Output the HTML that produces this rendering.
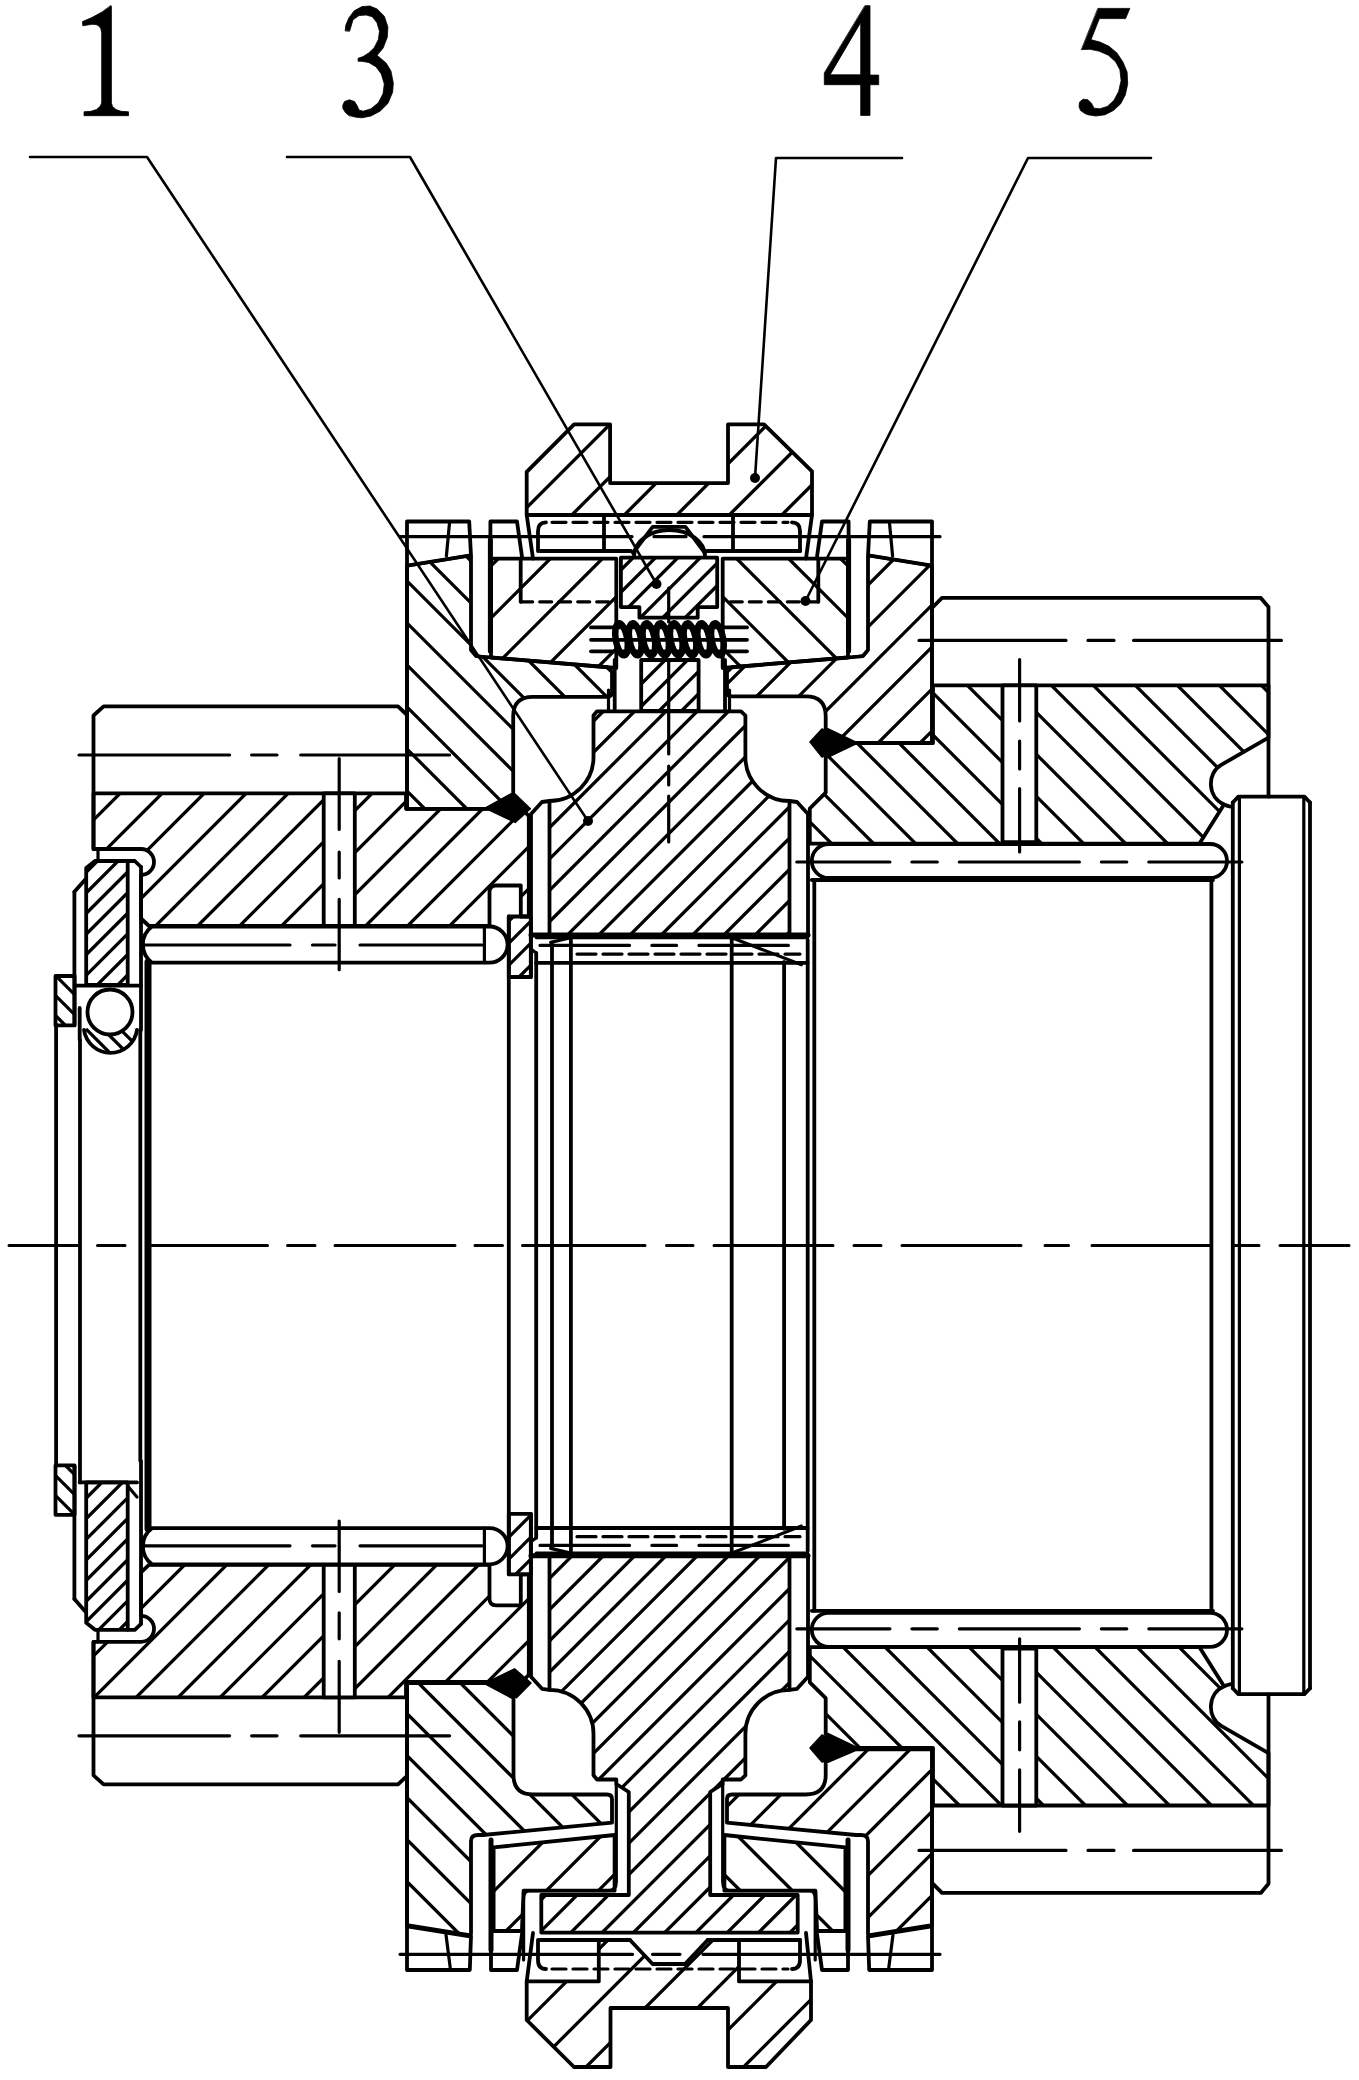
<!DOCTYPE html>
<html><head><meta charset="utf-8"><title>drawing</title>
<style>html,body{margin:0;padding:0;background:#fff;width:1359px;height:2080px;overflow:hidden}
svg{display:block} text{font-family:"Liberation Serif",serif}</style></head>
<body>
<svg width="1359" height="2080" viewBox="0 0 1359 2080" stroke="#000" stroke-linecap="round" stroke-linejoin="round" fill="none">
<defs><clipPath id="c1"><path d="M93.5,793.4H406V808.8H522L528.8,816V916.5H520.8V885.5H496Q489.5,885.5 489.5,892V926H149L141,918.5V875A13,13 0 0 0 141,849H93.5Z"/></clipPath><clipPath id="c2"><polygon points="508.8,916.5 530.8,916.5 530.8,977 508.8,977"/></clipPath><clipPath id="c3"><polygon points="86.2,868 95,861 127.7,861 127.7,985 86.2,985"/></clipPath><clipPath id="c4"><polygon points="55.5,976 74.6,976 74.6,1025.4 55.5,1025.4"/></clipPath><clipPath id="c5"><path d="M933,685.3H1268.5V737.7L1221.2,764.9C1207,773 1207,797 1224,804.5L1199.5,843.6H809.8V808.5L825.7,792.6V757L855,743H933Z"/></clipPath><clipPath id="c6"><path d="M84,1030A26.8,26.8 0 0 0 137,1030L127.7,1025A22,22 0 0 1 92.3,1025Z"/></clipPath><clipPath id="c7"><path d="M93.5,1697.4H406V1682H522L528.8,1674.8V1574.3H520.8V1605.3H496Q489.5,1605.3 489.5,1598.8V1564.8H149L141,1572.3V1615.8A13,13 0 0 1 141,1641.8H93.5Z"/></clipPath><clipPath id="c8"><polygon points="508.8,1574.3 530.8,1574.3 530.8,1513.8 508.8,1513.8"/></clipPath><clipPath id="c9"><polygon points="86.2,1622.8 95,1629.8 127.7,1629.8 127.7,1482.4 86.2,1482.4"/></clipPath><clipPath id="c10"><polygon points="55.5,1514.8 74.6,1514.8 74.6,1465.4 55.5,1465.4"/></clipPath><clipPath id="c11"><path d="M933,1805.5H1268.5V1753.1L1221.2,1725.9C1207,1717.8 1207,1693.8 1224,1686.3L1199.5,1647.2H809.8V1682.3L825.7,1698.2V1733.8L855,1747.8H933Z"/></clipPath><clipPath id="c12"><polygon points="526.7,515 526.7,471.8 574.1,424.4 610.1,424.4 610.1,483.1 728,483.1 728,424.4 764,424.4 812,471.4 812,515"/></clipPath><clipPath id="c13"><path d="M407,565.6L469.2,555.6L471,557V650L476,656L481,656.6L607,667.2L612,672V692Q612,696.8 607,696.8H533Q513.2,696.8 513.2,716V794L486,808.8H407Z"/></clipPath><clipPath id="c14"><polygon points="491,558.6 616.3,558.6 616.3,668 491,657.5"/></clipPath><clipPath id="c15"><polygon points="848,558.6 722.7,558.6 722.7,668 848,657.5"/></clipPath><clipPath id="c16"><path d="M869.8,555.6L868.0,557V650L863.0,656L858.0,656.6L732.0,667.2L727.0,672V692Q727.0,696.3 732.0,696.3H805.7Q825.7,696.3 825.7,716V729L855,743H932V565.6Z"/></clipPath><clipPath id="c17"><polygon points="620.9,557.7 717.2,557.7 717.2,607.1 697.7,607.1 697.7,617.7 639.4,617.7 639.4,607.1 620.9,607.1"/></clipPath><clipPath id="c18"><polygon points="641.2,660 698.6,660 698.6,711 641.2,711"/></clipPath><clipPath id="c19"><path d="M597,711.3H741L745.4,715.5V756.6A44,44 0 0 0 789.5,801V935H549.5V801A44,44 0 0 0 593.5,756.6V715.5Z"/></clipPath><clipPath id="c20"><polygon points="526.7,1981.4 526.7,2020 574,2067 610.5,2067 610.5,2008 728,2008 728,2067 766,2067 811,2020 811,1981.4 739,1981.4 739,1940 707.7,1940 685,1964 652.6,1964 630,1940 598.8,1940 598.8,1981.4"/></clipPath><clipPath id="c21"><path d="M407,1925.2L469.2,1935.2L471,1933.8V1841Q471,1835 478,1835H483L612,1822.7V1799Q612,1794.5 607,1794.5H533Q513.5,1794.5 513.5,1775V1697.7L486,1683H407Z"/></clipPath><clipPath id="c22"><polygon points="493.6,1847.4 614.6,1835 614.6,1890.7 523.6,1890.7 521.9,1931 493.6,1931"/></clipPath><clipPath id="c23"><polygon points="845.4,1847.4 724.4,1835 724.4,1890.7 815.4,1890.7 817.1,1931 845.4,1931"/></clipPath><clipPath id="c24"><path d="M869.8,1935.2L868.0,1933.8V1841Q868.0,1835 861.0,1835H856.0L727.0,1822.7V1799Q727.0,1794.5 732.0,1794.5H805.7Q825.7,1794.5 825.7,1775V1762L855,1749.4H932V1925.2Z"/></clipPath><clipPath id="c25"><path d="M549.5,1555.8H789.5V1689.8A44,44 0 0 0 745.4,1734.2V1775.3L741,1779.5H722.7V1784L710.2,1792V1895H797.7V1932.6H541.3V1895H628.8V1792L616.3,1784V1779.5H597L593.5,1775.3V1734.2A44,44 0 0 0 549.5,1689.8Z"/></clipPath></defs>
<rect x="0" y="0" width="1359" height="2080" fill="#fff" stroke="none"/>
<polygon points="111.1,5.7 111.4,6 111.4,103 112.5,106.5 116,109.5 121,111.3 128.5,111.8 128.5,115.7 84,115.7 84,111.8 91,111.3 96.5,109.5 100,106.5 101.7,103 101.7,33 101,29 99,26 96,24.5 92,24.3 82.8,25.8 82.5,21.6 92,17.5 102,12" fill="#000" stroke="#000" stroke-width="0.8" stroke-linejoin="round"/>
<polygon points="345.2,30.6 345.8,25.2 348.8,18 354.2,10.8 362,6.6 369.9,6 377.1,9 384.3,16.2 387.9,27 387.3,37.3 383.1,48.1 377.1,55.3 386.1,63.1 390.9,70.9 393.3,82.9 392.7,92 387.9,103.4 380,111.2 371,116 362,117.8 356,117.2 349,115.6 345.8,113 342.8,108.5 342.8,105.2 344.5,101.5 349.4,99.8 354.5,101.5 357.2,105.8 359,110 363.2,111.2 371,108.8 378.3,102.8 383,93.8 384.3,84.1 381.3,73.9 375.9,66.7 368.7,62.5 362,61.3 358.1,61.3 358.1,58.3 363.2,56.5 368.7,52.9 374,48 378.3,39.7 379.5,31.2 377,22.8 372.3,16.8 366.2,15 359,15.6 353,19.8 349.7,30.9" fill="#000" stroke="#000" stroke-width="0.8" stroke-linejoin="round"/>
<polygon points="1098.2,8.4 1129.8,8.4 1125.6,18.6 1099.4,18.6 1091,39.7 1100,42.1 1109,46.3 1116.9,52.9 1122.9,61.9 1127.1,72.1 1127.7,84.1 1125.3,95 1120.5,104 1113.3,110.6 1104.9,114.8 1095.8,116 1088,114.8 1085,113.6 1080.5,110.5 1079,106.5 1079.6,102 1083.2,99.2 1088,99.8 1091.6,103.4 1094,108.2 1100,108.8 1107.3,106.4 1113.9,100.4 1118.7,91.3 1121.1,80.5 1119.9,69.7 1115.7,61.9 1108.5,55.3 1098.8,51.1 1089.8,49.3 1081.7,49.6" fill="#000" stroke="#000" stroke-width="0.8" stroke-linejoin="round"/>
<path d="M865.2,5.7 870,5.7 870,75.1 878.7,75.1 878.7,84.7 870,84.7 870,115.4 860.7,115.4 860.7,84.7 824.3,84.7 824.3,73.3Z M860.7,22.8 860.7,74.8 830.3,74.8Z" fill="#000" fill-rule="evenodd" stroke="#000" stroke-width="0.8"/>
<polyline points="30,157 147,157 588,821" stroke-width="2.6" fill="none"/>
<circle cx="588" cy="821" r="5" fill="#000" stroke="none"/>
<polyline points="287,157 410,157 656.5,584" stroke-width="2.6" fill="none"/>
<circle cx="656.5" cy="584" r="5" fill="#000" stroke="none"/>
<polyline points="902,158 776,158 755,478" stroke-width="2.6" fill="none"/>
<circle cx="755" cy="478" r="5" fill="#000" stroke="none"/>
<polyline points="1151,158 1028,158 805.5,601" stroke-width="2.6" fill="none"/>
<circle cx="805.5" cy="601" r="5" fill="#000" stroke="none"/>
<path d="M9,1245.4H77.5M97.5,1245.4H125M150,1245.4H267.5M287.5,1245.4H315M335,1245.4H455M475,1245.4H502.5M522.5,1245.4H645M666.5,1245.4H693M714,1245.4H833M854,1245.4H881M902,1245.4H1021M1045,1245.4H1068.6M1092,1245.4H1211M1232.6,1245.4H1259M1280,1245.4H1349" stroke-width="3.0" fill="none"/>
<polyline points="93.5,849 93.5,715.5 103.6,706.4 398,706.4 406,714" stroke-width="3.8" fill="none"/>
<path d="M79,755H229.6M251.6,755H277M300.7,755H449.6" stroke-width="3.2" fill="none"/>
<path clip-path="url(#c1)" d="M-57.5,929L81.1,790.4M-15.5,929L123.1,790.4M26.5,929L165.1,790.4M68.5,929L207.1,790.4M110.5,929L249.1,790.4M152.5,929L291.1,790.4M194.5,929L333.1,790.4M236.5,929L375.1,790.4M278.5,929L417.1,790.4M320.5,929L459.1,790.4M362.5,929L501.1,790.4M404.5,929L543.1,790.4M446.5,929L585.1,790.4M488.5,929L627.1,790.4" stroke-width="3.3" fill="none"/>
<path d="M93.5,793.4H406V808.8H522L528.8,816V916.5H520.8V885.5H496Q489.5,885.5 489.5,892V926H149L141,918.5V875A13,13 0 0 0 141,849H93.5Z" stroke-width="3.8" fill="none"/>
<polygon points="323.7,793.4 354.8,793.4 354.8,926 323.7,926" stroke-width="3.8" fill="#fff"/>
<path d="M339.2,758.5V829.5M339.2,852V878M339.2,899.3V969.7" stroke-width="3.2" fill="none"/>
<line x1="98" y1="849" x2="98" y2="861" stroke-width="3.2"/>
<path d="M152,926.5H489.5A18.1,18.1 0 0 1 489.5,962.7H152A22.5,22.5 0 0 1 152,926.5Z" stroke-width="3.8" fill="none"/>
<line x1="484.4" y1="926.5" x2="484.4" y2="962.7" stroke-width="3.2"/>
<path d="M143,945H290M312.5,945H335M360,945H482" stroke-width="3.2" fill="none"/>
<line x1="531" y1="935" x2="531" y2="977" stroke-width="3.8"/>
<line x1="531" y1="949" x2="536.2" y2="953" stroke-width="3.2"/>
<path clip-path="url(#c2)" d="M429,979L493.5,914.5M451,979L515.5,914.5M473,979L537.5,914.5M495,979L559.5,914.5M517,979L581.5,914.5" stroke-width="3.3" fill="none"/>
<polygon points="508.8,916.5 530.8,916.5 530.8,977 508.8,977" stroke-width="3.8" fill="none"/>
<path clip-path="url(#c3)" d="M-49.1,987L78.9,859M-28.5,987L99.5,859M-7.9,987L120.1,859M12.7,987L140.7,859M33.3,987L161.3,859M53.9,987L181.9,859M74.5,987L202.5,859M95.1,987L223.1,859M115.7,987L243.7,859" stroke-width="3.3" fill="none"/>
<polygon points="86.2,868 95,861 127.7,861 127.7,985 86.2,985" stroke-width="3.8" fill="none"/>
<polyline points="127.7,861 134.8,861 141,867" stroke-width="3.8" fill="none"/>
<line x1="74.4" y1="891.8" x2="74.4" y2="1025" stroke-width="3.8"/>
<line x1="74.4" y1="891.8" x2="85.3" y2="879.4" stroke-width="3.8"/>
<line x1="141" y1="867" x2="141" y2="1030" stroke-width="3.8"/>
<path clip-path="url(#c4)" d="M-6,974L47.4,1027.4M14,974L67.4,1027.4M34,974L87.4,1027.4M54,974L107.4,1027.4" stroke-width="3.3" fill="none"/>
<polygon points="55.5,976 74.6,976 74.6,1025.4 55.5,1025.4" stroke-width="3.8" fill="none"/>
<polyline points="933,607 942,597.9 1260.8,597.9 1268.5,607 1268.5,796.5" stroke-width="3.8" fill="none"/>
<path d="M919,640.4H1066M1088,640.4H1114M1133.6,640.4H1281.4" stroke-width="3.2" fill="none"/>
<path clip-path="url(#c5)" d="M628.3,682.3L792.6,846.6M670.3,682.3L834.6,846.6M712.3,682.3L876.6,846.6M754.3,682.3L918.6,846.6M796.3,682.3L960.6,846.6M838.3,682.3L1002.6,846.6M880.3,682.3L1044.6,846.6M922.3,682.3L1086.6,846.6M964.3,682.3L1128.6,846.6M1006.3,682.3L1170.6,846.6M1048.3,682.3L1212.6,846.6M1090.3,682.3L1254.6,846.6M1132.3,682.3L1296.6,846.6M1174.3,682.3L1338.6,846.6M1216.3,682.3L1380.6,846.6M1258.3,682.3L1422.6,846.6" stroke-width="3.3" fill="none"/>
<path d="M933,685.3H1268.5V737.7L1221.2,764.9C1207,773 1207,797 1224,804.5L1199.5,843.6H809.8V808.5L825.7,792.6V757L855,743H933Z" stroke-width="3.8" fill="none"/>
<path d="M1224,804.5Q1227,806 1232,807" stroke-width="3.8" fill="none"/>
<polygon points="1002.5,685.3 1036.3,685.3 1036.3,842.2 1002.5,842.2" stroke-width="3.8" fill="#fff"/>
<path d="M1019.6,659.5V721M1019.6,741V769M1019.6,788.6V852" stroke-width="3.2" fill="none"/>
<path d="M828.8,844H1210A17,17 0 0 1 1210,878H828.8A17,17 0 0 1 828.8,844Z" stroke-width="3.8" fill="none"/>
<path d="M796.8,862H889.9M911.9,862H937.3M959.3,862H1079.4M1101.4,862H1126.8M1148.8,862H1241.9" stroke-width="3.2" fill="none"/>
<line x1="811.8" y1="880" x2="1213" y2="880" stroke-width="3.8"/>
<circle cx="110" cy="1012" r="22.5" stroke-width="3.8" fill="none"/>
<path clip-path="url(#c6)" d="M45,1022L79,1056M62,1022L96,1056M79,1022L113,1056M96,1022L130,1056M113,1022L147,1056M130,1022L164,1056" stroke-width="3.3" fill="none"/>
<path d="M84,1030A26.8,26.8 0 0 0 137,1030" stroke-width="3.8" fill="none"/>
<line x1="76" y1="985.7" x2="141" y2="985.7" stroke-width="3.8"/>
<line x1="79.7" y1="1008" x2="79.7" y2="1040" stroke-width="3.8"/>
<polyline points="93.5,1641.8 93.5,1775.3 103.6,1784.4 398,1784.4 406,1776.8" stroke-width="3.8" fill="none"/>
<path d="M79,1735.8H229.6M251.6,1735.8H277M300.7,1735.8H449.6" stroke-width="3.2" fill="none"/>
<path clip-path="url(#c7)" d="M-76.9,1700.4L61.7,1561.8M-34.9,1700.4L103.7,1561.8M7.1,1700.4L145.7,1561.8M49.1,1700.4L187.7,1561.8M91.1,1700.4L229.7,1561.8M133.1,1700.4L271.7,1561.8M175.1,1700.4L313.7,1561.8M217.1,1700.4L355.7,1561.8M259.1,1700.4L397.7,1561.8M301.1,1700.4L439.7,1561.8M343.1,1700.4L481.7,1561.8M385.1,1700.4L523.7,1561.8M427.1,1700.4L565.7,1561.8M469.1,1700.4L607.7,1561.8M511.1,1700.4L649.7,1561.8" stroke-width="3.3" fill="none"/>
<path d="M93.5,1697.4H406V1682H522L528.8,1674.8V1574.3H520.8V1605.3H496Q489.5,1605.3 489.5,1598.8V1564.8H149L141,1572.3V1615.8A13,13 0 0 1 141,1641.8H93.5Z" stroke-width="3.8" fill="none"/>
<polygon points="323.7,1697.4 354.8,1697.4 354.8,1564.8 323.7,1564.8" stroke-width="3.8" fill="#fff"/>
<path d="M339.2,1661.3V1732.3M339.2,1612.8V1638.8M339.2,1521.1V1591.5" stroke-width="3.2" fill="none"/>
<line x1="98" y1="1641.8" x2="98" y2="1629.8" stroke-width="3.2"/>
<path d="M152,1528.1H489.5A18.1,18.1 0 0 1 489.5,1564.3H152A22.5,22.5 0 0 1 152,1528.1Z" stroke-width="3.8" fill="none"/>
<line x1="484.4" y1="1528.1" x2="484.4" y2="1564.3" stroke-width="3.2"/>
<path d="M143,1545.8H290M312.5,1545.8H335M360,1545.8H482" stroke-width="3.2" fill="none"/>
<line x1="531" y1="1555.8" x2="531" y2="1513.8" stroke-width="3.8"/>
<line x1="531" y1="1541.8" x2="536.2" y2="1537.8" stroke-width="3.2"/>
<path clip-path="url(#c8)" d="M425.7,1576.3L490.2,1511.8M447.7,1576.3L512.2,1511.8M469.7,1576.3L534.2,1511.8M491.7,1576.3L556.2,1511.8M513.7,1576.3L578.2,1511.8" stroke-width="3.3" fill="none"/>
<polygon points="508.8,1574.3 530.8,1574.3 530.8,1513.8 508.8,1513.8" stroke-width="3.8" fill="none"/>
<path clip-path="url(#c9)" d="M-68.1,1631.8L83.3,1480.4M-47.5,1631.8L103.9,1480.4M-26.9,1631.8L124.5,1480.4M-6.3,1631.8L145.1,1480.4M14.3,1631.8L165.7,1480.4M34.9,1631.8L186.3,1480.4M55.5,1631.8L206.9,1480.4M76.1,1631.8L227.5,1480.4M96.7,1631.8L248.1,1480.4M117.3,1631.8L268.7,1480.4" stroke-width="3.3" fill="none"/>
<polygon points="86.2,1622.8 95,1629.8 127.7,1629.8 127.7,1482.4 86.2,1482.4" stroke-width="3.8" fill="none"/>
<polyline points="127.7,1629.8 134.8,1629.8 141,1623.8" stroke-width="3.8" fill="none"/>
<line x1="79.7" y1="1482.4" x2="137" y2="1482.4" stroke-width="3.8"/>
<line x1="127.7" y1="1486" x2="137" y2="1497" stroke-width="3.2"/>
<line x1="74.4" y1="1599" x2="74.4" y2="1465.8" stroke-width="3.8"/>
<line x1="74.4" y1="1599" x2="85.3" y2="1611.4" stroke-width="3.8"/>
<line x1="141" y1="1623.8" x2="141" y2="1460.8" stroke-width="3.8"/>
<path clip-path="url(#c10)" d="M3.4,1463.4L56.8,1516.8M23.4,1463.4L76.8,1516.8M43.4,1463.4L96.8,1516.8M63.4,1463.4L116.8,1516.8" stroke-width="3.3" fill="none"/>
<polygon points="55.5,1514.8 74.6,1514.8 74.6,1465.4 55.5,1465.4" stroke-width="3.8" fill="none"/>
<polyline points="933,1883.8 942,1892.9 1260.8,1892.9 1268.5,1883.8 1268.5,1694.3" stroke-width="3.8" fill="none"/>
<path d="M919,1850.4H1066M1088,1850.4H1114M1133.6,1850.4H1281.4" stroke-width="3.2" fill="none"/>
<path clip-path="url(#c11)" d="M630.2,1644.2L794.5,1808.5M672.2,1644.2L836.5,1808.5M714.2,1644.2L878.5,1808.5M756.2,1644.2L920.5,1808.5M798.2,1644.2L962.5,1808.5M840.2,1644.2L1004.5,1808.5M882.2,1644.2L1046.5,1808.5M924.2,1644.2L1088.5,1808.5M966.2,1644.2L1130.5,1808.5M1008.2,1644.2L1172.5,1808.5M1050.2,1644.2L1214.5,1808.5M1092.2,1644.2L1256.5,1808.5M1134.2,1644.2L1298.5,1808.5M1176.2,1644.2L1340.5,1808.5M1218.2,1644.2L1382.5,1808.5M1260.2,1644.2L1424.5,1808.5" stroke-width="3.3" fill="none"/>
<path d="M933,1805.5H1268.5V1753.1L1221.2,1725.9C1207,1717.8 1207,1693.8 1224,1686.3L1199.5,1647.2H809.8V1682.3L825.7,1698.2V1733.8L855,1747.8H933Z" stroke-width="3.8" fill="none"/>
<path d="M1224,1686.3Q1227,1684.8 1232,1683.8" stroke-width="3.8" fill="none"/>
<polygon points="1002.5,1805.5 1036.3,1805.5 1036.3,1648.6 1002.5,1648.6" stroke-width="3.8" fill="#fff"/>
<path d="M1019.6,1638.8V1702.2M1019.6,1721.8V1749.8M1019.6,1769.8V1831.3" stroke-width="3.2" fill="none"/>
<path d="M828.8,1612.8H1210A17,17 0 0 1 1210,1646.8H828.8A17,17 0 0 1 828.8,1612.8Z" stroke-width="3.8" fill="none"/>
<path d="M796.8,1628.8H889.9M911.9,1628.8H937.3M959.3,1628.8H1079.4M1101.4,1628.8H1126.8M1148.8,1628.8H1241.9" stroke-width="3.2" fill="none"/>
<line x1="811.8" y1="1610.8" x2="1213" y2="1610.8" stroke-width="3.8"/>
<line x1="56.1" y1="1025" x2="56.1" y2="1465.8" stroke-width="3.8"/>
<line x1="80" y1="1040" x2="80" y2="1482.4" stroke-width="3.8"/>
<line x1="140.3" y1="1030" x2="140.3" y2="1460.8" stroke-width="3.8"/>
<line x1="148" y1="962" x2="148" y2="1528.8" stroke-width="7"/>
<line x1="508.8" y1="916.5" x2="508.8" y2="1574.3" stroke-width="3.8"/>
<line x1="536.2" y1="953" x2="536.2" y2="1537.8" stroke-width="3.8"/>
<line x1="552" y1="943" x2="552" y2="1547.8" stroke-width="3.8"/>
<line x1="570.9" y1="937.7" x2="570.9" y2="1553.1" stroke-width="3.8"/>
<line x1="731.7" y1="937.7" x2="731.7" y2="1553.1" stroke-width="3.8"/>
<line x1="784.1" y1="962" x2="784.1" y2="1528.8" stroke-width="3.8"/>
<line x1="807.7" y1="940" x2="807.7" y2="1550.8" stroke-width="3.8"/>
<line x1="814.3" y1="880" x2="814.3" y2="1610.8" stroke-width="3.8"/>
<line x1="1211.4" y1="880" x2="1211.4" y2="1610.8" stroke-width="3.8"/>
<line x1="1232.8" y1="802.5" x2="1232.8" y2="1688.3" stroke-width="3.8"/>
<line x1="1239.4" y1="796.6" x2="1239.4" y2="1694.2" stroke-width="3.2"/>
<line x1="1303.8" y1="796.6" x2="1303.8" y2="1694.2" stroke-width="3.2"/>
<line x1="1310" y1="802.5" x2="1310" y2="1688.3" stroke-width="3.8"/>
<polyline points="1232.8,802.5 1238.4,796.6 1304.4,796.6 1310,802.5" stroke-width="3.8" fill="none"/>
<polyline points="1232.8,1688.3 1238.4,1694.2 1304.4,1694.2 1310,1688.3" stroke-width="3.8" fill="none"/>
<path clip-path="url(#c12)" d="M412.3,517L506.9,422.4M464.8,517L559.4,422.4M517.3,517L611.9,422.4M569.8,517L664.4,422.4M622.3,517L716.9,422.4M674.8,517L769.4,422.4M727.3,517L821.9,422.4M779.8,517L874.4,422.4" stroke-width="3.3" fill="none"/>
<polygon points="526.7,515 526.7,471.8 574.1,424.4 610.1,424.4 610.1,483.1 728,483.1 728,424.4 764,424.4 812,471.4 812,515" stroke-width="3.8" fill="none"/>
<path d="M538,551V531Q538,522.3 546,522.3" stroke-width="3.8" fill="none"/>
<path d="M792,522.3Q800,522.3 800,531V551" stroke-width="3.8" fill="none"/>
<line x1="552" y1="522.3" x2="788" y2="522.3" stroke-width="3.2" stroke-dasharray="14 7"/>
<path d="M400,536.7H632M654,536.7H686M704,536.7H940" stroke-width="3.2" fill="none"/>
<line x1="540" y1="551" x2="631" y2="551" stroke-width="3.8"/>
<line x1="707" y1="551" x2="800" y2="551" stroke-width="3.8"/>
<line x1="604" y1="515" x2="604" y2="551" stroke-width="3.8"/>
<line x1="733" y1="515" x2="733" y2="551" stroke-width="3.8"/>
<line x1="526.7" y1="515" x2="533" y2="558.6" stroke-width="3.8"/>
<line x1="812" y1="515" x2="806" y2="558.6" stroke-width="3.8"/>
<polyline points="633,553 652.7,526.8 685.4,526.8 705,553" stroke-width="3.8" fill="none"/>
<path d="M634,556A35.5,26 0 0 1 705,556" stroke-width="3.8" fill="none"/>
<path clip-path="url(#c13)" d="M127,553L385,811M169,553L427,811M211,553L469,811M253,553L511,811M295,553L553,811M337,553L595,811M379,553L637,811M421,553L679,811M463,553L721,811M505,553L763,811M547,553L805,811M589,553L847,811" stroke-width="3.3" fill="none"/>
<path d="M407,565.6L469.2,555.6L471,557V650L476,656L481,656.6L607,667.2L612,672V692Q612,696.8 607,696.8H533Q513.2,696.8 513.2,716V794L486,808.8H407Z" stroke-width="3.8" fill="none"/>
<polyline points="407,808.8 407,521.5 469.2,521.5 471,556" stroke-width="3.8" fill="none"/>
<line x1="449.5" y1="523" x2="446.4" y2="556" stroke-width="3.2"/>
<line x1="408.2" y1="565.6" x2="469.2" y2="555.6" stroke-width="3.2"/>
<polyline points="490.4,651 490.4,521.5 517,521.5 522,556.8" stroke-width="3.8" fill="none"/>
<line x1="490.4" y1="540" x2="490.4" y2="651" stroke-width="5"/>
<path clip-path="url(#c14)" d="M335,670L448.4,556.6M387,670L500.4,556.6M439,670L552.4,556.6M491,670L604.4,556.6M543,670L656.4,556.6M595,670L708.4,556.6" stroke-width="3.3" fill="none"/>
<polygon points="491,558.6 616.3,558.6 616.3,668 491,657.5" stroke-width="3.8" fill="none"/>
<line x1="520.7" y1="558.6" x2="520.7" y2="601.8" stroke-width="3.8"/>
<line x1="520.7" y1="601.8" x2="616.3" y2="601.8" stroke-width="3.2" stroke-dasharray="12 7"/>
<path clip-path="url(#c15)" d="M578.6,556.6L692,670M630.6,556.6L744,670M682.6,556.6L796,670M734.6,556.6L848,670M786.6,556.6L900,670M838.6,556.6L952,670" stroke-width="3.3" fill="none"/>
<polygon points="848,558.6 722.7,558.6 722.7,668 848,657.5" stroke-width="3.8" fill="none"/>
<line x1="818.3" y1="558.6" x2="818.3" y2="601.8" stroke-width="3.8"/>
<line x1="818.3" y1="601.8" x2="722.7" y2="601.8" stroke-width="3.2" stroke-dasharray="12 7"/>
<path clip-path="url(#c16)" d="M497,746L690,553M539,746L732,553M581,746L774,553M623,746L816,553M665,746L858,553M707,746L900,553M749,746L942,553M791,746L984,553M833,746L1026,553M875,746L1068,553M917,746L1110,553" stroke-width="3.3" fill="none"/>
<path d="M869.8,555.6L868.0,557V650L863.0,656L858.0,656.6L732.0,667.2L727.0,672V692Q727.0,696.3 732.0,696.3H805.7Q825.7,696.3 825.7,716V729L855,743H932V565.6Z" stroke-width="3.8" fill="none"/>
<polyline points="932,743 932,521.5 869.8,521.5 868,556" stroke-width="3.8" fill="none"/>
<line x1="889.5" y1="523" x2="892.6" y2="556" stroke-width="3.2"/>
<line x1="930.8" y1="565.6" x2="869.8" y2="555.6" stroke-width="3.2"/>
<polyline points="848.6,651 848.6,521.5 822,521.5 817,556.8" stroke-width="3.8" fill="none"/>
<line x1="848.6" y1="540" x2="848.6" y2="651" stroke-width="5"/>
<line x1="591" y1="627.4" x2="747" y2="627.4" stroke-width="3.8"/>
<line x1="591" y1="639.8" x2="747" y2="639.8" stroke-width="3.8"/>
<line x1="591" y1="651.3" x2="747" y2="651.3" stroke-width="3.8"/>
<path clip-path="url(#c17)" d="M548.7,619.7L612.7,555.7M571.1,619.7L635.1,555.7M593.5,619.7L657.5,555.7M615.9,619.7L679.9,555.7M638.3,619.7L702.3,555.7M660.7,619.7L724.7,555.7M683.1,619.7L747.1,555.7M705.5,619.7L769.5,555.7" stroke-width="3.3" fill="none"/>
<polygon points="620.9,557.7 717.2,557.7 717.2,607.1 697.7,607.1 697.7,617.7 639.4,617.7 639.4,607.1 620.9,607.1" stroke-width="3.8" fill="none"/>
<path clip-path="url(#c18)" d="M567.4,713L622.4,658M589.8,713L644.8,658M612.2,713L667.2,658M634.6,713L689.6,658M657,713L712,658M679.4,713L734.4,658" stroke-width="3.3" fill="none"/>
<polygon points="641.2,660 698.6,660 698.6,711 641.2,711" stroke-width="3.8" fill="none"/>
<line x1="614.7" y1="660" x2="614.7" y2="711" stroke-width="3.8"/>
<line x1="725" y1="660" x2="725" y2="711" stroke-width="3.8"/>
<line x1="608.5" y1="690" x2="608.5" y2="711" stroke-width="3.2"/>
<line x1="729.5" y1="690" x2="729.5" y2="711" stroke-width="3.2"/>
<ellipse cx="621.5" cy="639.3" rx="5.8" ry="16.2" transform="rotate(-10 621.5 639.3)" stroke-width="6.5" fill="none"/>
<ellipse cx="635.2" cy="639.3" rx="5.8" ry="16.2" transform="rotate(-10 635.2 639.3)" stroke-width="6.5" fill="none"/>
<ellipse cx="648.9" cy="639.3" rx="5.8" ry="16.2" transform="rotate(-10 648.9 639.3)" stroke-width="6.5" fill="none"/>
<ellipse cx="662.6" cy="639.3" rx="5.8" ry="16.2" transform="rotate(-10 662.6 639.3)" stroke-width="6.5" fill="none"/>
<ellipse cx="676.3" cy="639.3" rx="5.8" ry="16.2" transform="rotate(-10 676.3 639.3)" stroke-width="6.5" fill="none"/>
<ellipse cx="690" cy="639.3" rx="5.8" ry="16.2" transform="rotate(-10 690 639.3)" stroke-width="6.5" fill="none"/>
<ellipse cx="703.7" cy="639.3" rx="5.8" ry="16.2" transform="rotate(-10 703.7 639.3)" stroke-width="6.5" fill="none"/>
<ellipse cx="717.4" cy="639.3" rx="5.8" ry="16.2" transform="rotate(-10 717.4 639.3)" stroke-width="6.5" fill="none"/>
<path d="M668.7,588V622M668.7,632V652M668.7,662V754M668.7,766V785M668.7,796V842" stroke-width="3.2" fill="none"/>
<path clip-path="url(#c19)" d="M314,938L543,709M345.3,938L574.3,709M376.6,938L605.6,709M407.9,938L636.9,709M439.2,938L668.2,709M470.5,938L699.5,709M501.8,938L730.8,709M533.1,938L762.1,709M564.4,938L793.4,709M595.7,938L824.7,709M627,938L856,709M658.3,938L887.3,709M689.6,938L918.6,709M720.9,938L949.9,709M752.2,938L981.2,709M783.5,938L1012.5,709" stroke-width="3.3" fill="none"/>
<path d="M597,711.3H741L745.4,715.5V756.6A44,44 0 0 0 789.5,801V935H549.5V801A44,44 0 0 0 593.5,756.6V715.5Z" stroke-width="3.8" fill="none"/>
<polyline points="531,935 531,814 542,802 549.5,801" stroke-width="3.8" fill="none"/>
<polyline points="808,935 808,814 797,802 789.5,801" stroke-width="3.8" fill="none"/>
<line x1="531" y1="935" x2="808" y2="935" stroke-width="5"/>
<polyline points="536.2,937.6 807.7,937.6" stroke-width="3.2" fill="none"/>
<line x1="536.2" y1="962.8" x2="807.7" y2="962.8" stroke-width="3.8"/>
<path d="M540,945.4H629.5M651.9,945.4H676.6M699,945.4H788.4" stroke-width="3.2" fill="none"/>
<line x1="577" y1="954.1" x2="800" y2="954.1" stroke-width="3.2" stroke-dasharray="19 7"/>
<line x1="550.6" y1="942.4" x2="570.6" y2="937.7" stroke-width="3.2"/>
<line x1="731.9" y1="937.7" x2="801.4" y2="964.7" stroke-width="3.2"/>
<polygon points="486,808.5 515,794 530.4,808.8 515.2,822.4" fill="#000" stroke-width="1.5" stroke-linejoin="round"/>
<polygon points="810,742 822,729 835,734 856,743 835,751 822,757" fill="#000" stroke-width="1.5" stroke-linejoin="round"/>
<path clip-path="url(#c20)" d="M374,2069L505,1938M426.5,2069L557.5,1938M479,2069L610,1938M531.5,2069L662.5,1938M584,2069L715,1938M636.5,2069L767.5,1938M689,2069L820,1938M741.5,2069L872.5,1938M794,2069L925,1938" stroke-width="3.3" fill="none"/>
<polygon points="526.7,1981.4 526.7,2020 574,2067 610.5,2067 610.5,2008 728,2008 728,2067 766,2067 811,2020 811,1981.4 739,1981.4 739,1940 707.7,1940 685,1964 652.6,1964 630,1940 598.8,1940 598.8,1981.4" stroke-width="3.8" fill="none"/>
<path d="M400,1954.3H632.6M652.5,1954.3H680M703,1954.3H940" stroke-width="3.2" fill="none"/>
<path d="M538,1940V1960Q538,1969 546,1969" stroke-width="3.8" fill="none"/>
<path d="M792,1969Q800,1969 800,1960V1940" stroke-width="3.8" fill="none"/>
<line x1="552" y1="1969" x2="788" y2="1969" stroke-width="3.2" stroke-dasharray="14 7"/>
<line x1="526.7" y1="1981.4" x2="533" y2="1933" stroke-width="3.8"/>
<line x1="811" y1="1981.4" x2="806" y2="1933" stroke-width="3.8"/>
<line x1="540" y1="1940" x2="630" y2="1940" stroke-width="3.8"/>
<line x1="707.7" y1="1940" x2="800" y2="1940" stroke-width="3.8"/>
<path clip-path="url(#c21)" d="M121.4,1680L379.4,1938M163.4,1680L421.4,1938M205.4,1680L463.4,1938M247.4,1680L505.4,1938M289.4,1680L547.4,1938M331.4,1680L589.4,1938M373.4,1680L631.4,1938M415.4,1680L673.4,1938M457.4,1680L715.4,1938M499.4,1680L757.4,1938M541.4,1680L799.4,1938M583.4,1680L841.4,1938" stroke-width="3.3" fill="none"/>
<path d="M407,1925.2L469.2,1935.2L471,1933.8V1841Q471,1835 478,1835H483L612,1822.7V1799Q612,1794.5 607,1794.5H533Q513.5,1794.5 513.5,1775V1697.7L486,1683H407Z" stroke-width="3.8" fill="none"/>
<polyline points="407,1683 407,1970 469.8,1970 471,1936" stroke-width="3.8" fill="none"/>
<line x1="450.3" y1="1968.4" x2="446" y2="1934.8" stroke-width="3.2"/>
<line x1="408.8" y1="1926.9" x2="469.8" y2="1936.6" stroke-width="3.2"/>
<polyline points="491,1840 491,1970 517,1970 522,1934" stroke-width="3.8" fill="none"/>
<line x1="491" y1="1840" x2="491" y2="1950" stroke-width="5"/>
<path clip-path="url(#c22)" d="M348,1933L448,1833M400,1933L500,1833M452,1933L552,1833M504,1933L604,1833M556,1933L656,1833M608,1933L708,1833" stroke-width="3.3" fill="none"/>
<polygon points="493.6,1847.4 614.6,1835 614.6,1890.7 523.6,1890.7 521.9,1931 493.6,1931" stroke-width="3.8" fill="none"/>
<path clip-path="url(#c23)" d="M578.7,1833L678.7,1933M630.7,1833L730.7,1933M682.7,1833L782.7,1933M734.7,1833L834.7,1933M786.7,1833L886.7,1933M838.7,1833L938.7,1933" stroke-width="3.3" fill="none"/>
<polygon points="845.4,1847.4 724.4,1835 724.4,1890.7 815.4,1890.7 817.1,1931 845.4,1931" stroke-width="3.8" fill="none"/>
<path clip-path="url(#c24)" d="M511.5,1938L703.5,1746M553.5,1938L745.5,1746M595.5,1938L787.5,1746M637.5,1938L829.5,1746M679.5,1938L871.5,1746M721.5,1938L913.5,1746M763.5,1938L955.5,1746M805.5,1938L997.5,1746M847.5,1938L1039.5,1746M889.5,1938L1081.5,1746" stroke-width="3.3" fill="none"/>
<path d="M869.8,1935.2L868.0,1933.8V1841Q868.0,1835 861.0,1835H856.0L727.0,1822.7V1799Q727.0,1794.5 732.0,1794.5H805.7Q825.7,1794.5 825.7,1775V1762L855,1749.4H932V1925.2Z" stroke-width="3.8" fill="none"/>
<polyline points="932,1749.4 932,1970 869.2,1970 868,1936" stroke-width="3.8" fill="none"/>
<line x1="888.7" y1="1968.4" x2="893" y2="1934.8" stroke-width="3.2"/>
<line x1="930.2" y1="1926.9" x2="869.2" y2="1936.6" stroke-width="3.2"/>
<polyline points="848,1840 848,1970 822,1970 817,1934" stroke-width="3.8" fill="none"/>
<line x1="848" y1="1840" x2="848" y2="1950" stroke-width="5"/>
<path clip-path="url(#c25)" d="M130.2,1935L512.2,1553M161.5,1935L543.5,1553M192.8,1935L574.8,1553M224.1,1935L606.1,1553M255.4,1935L637.4,1553M286.7,1935L668.7,1553M318,1935L700,1553M349.3,1935L731.3,1553M380.6,1935L762.6,1553M411.9,1935L793.9,1553M443.2,1935L825.2,1553M474.5,1935L856.5,1553M505.8,1935L887.8,1553M537.1,1935L919.1,1553M568.4,1935L950.4,1553M599.7,1935L981.7,1553M631,1935L1013,1553M662.3,1935L1044.3,1553M693.6,1935L1075.6,1553M724.9,1935L1106.9,1553M756.2,1935L1138.2,1553M787.5,1935L1169.5,1553" stroke-width="3.3" fill="none"/>
<path d="M549.5,1555.8H789.5V1689.8A44,44 0 0 0 745.4,1734.2V1775.3L741,1779.5H722.7V1784L710.2,1792V1895H797.7V1932.6H541.3V1895H628.8V1792L616.3,1784V1779.5H597L593.5,1775.3V1734.2A44,44 0 0 0 549.5,1689.8Z" stroke-width="3.8" fill="none"/>
<path d="M616.3,1784V1882Q616.3,1890.7 608,1890.7H530Q523.6,1890.7 523.6,1898V1960" stroke-width="3.2" fill="none"/>
<path d="M722.7,1784V1882Q722.7,1890.7 731,1890.7H809Q815.2,1890.7 815.2,1898V1960" stroke-width="3.2" fill="none"/>
<polyline points="531,1555.8 531,1676.8 542,1688.8 549.5,1689.8" stroke-width="3.8" fill="none"/>
<polyline points="808,1555.8 808,1676.8 797,1688.8 789.5,1689.8" stroke-width="3.8" fill="none"/>
<line x1="531" y1="1555.8" x2="808" y2="1555.8" stroke-width="5"/>
<line x1="536.2" y1="1553.2" x2="807.7" y2="1553.2" stroke-width="3.2"/>
<line x1="536.2" y1="1528" x2="807.7" y2="1528" stroke-width="3.8"/>
<path d="M540,1545.4H629.5M651.9,1545.4H676.6M699,1545.4H788.4" stroke-width="3.2" fill="none"/>
<line x1="577" y1="1536.7" x2="800" y2="1536.7" stroke-width="3.2" stroke-dasharray="19 7"/>
<line x1="550.6" y1="1548.4" x2="570.6" y2="1553.1" stroke-width="3.2"/>
<line x1="731.9" y1="1553.1" x2="801.4" y2="1526.1" stroke-width="3.2"/>
<polygon points="485.6,1683 514.5,1668.8 531,1683 516.5,1697.7" fill="#000" stroke-width="1.5" stroke-linejoin="round"/>
<polygon points="810,1748 822,1735 835,1740 856,1749 835,1757 822,1762" fill="#000" stroke-width="1.5" stroke-linejoin="round"/>
</svg>
</body></html>
